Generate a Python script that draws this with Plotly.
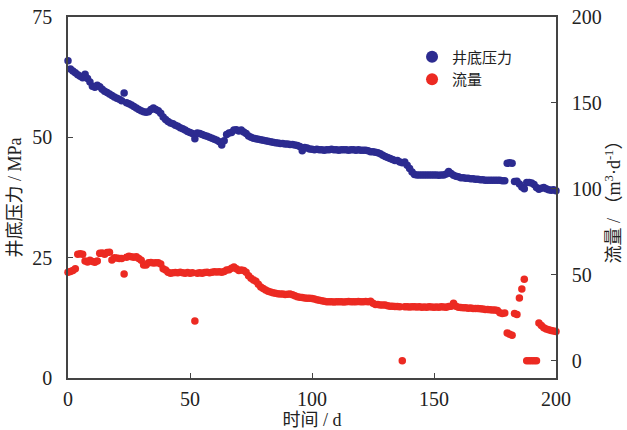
import plotly.graph_objects as go

# Time axis (days) and the two measured series
days = list(range(0, 201))

bottomhole_pressure = [
    65.9, 64.2, 63.8, 63.4, 63.0, 62.7, 62.4, 63.1, 62.2, 61.5,
    60.6, 60.4, 60.8, 60.5, 60.0, 59.6, 59.3, 59.0, 58.7, 58.4,
    58.1, 57.9, 57.6, 59.2, 57.2, 57.0, 56.7, 56.4, 56.1, 55.8,
    55.5, 55.3, 55.2, 55.3, 55.8, 56.1, 55.8, 55.5, 55.0, 54.2,
    53.7, 53.3, 53.0, 52.8, 52.5, 52.3, 52.0, 51.8, 51.5, 51.2,
    51.0, 50.8, 49.7, 50.9, 50.8, 50.6, 50.4, 50.2, 50.0, 49.8,
    49.6, 49.4, 49.1, 48.4, 49.3, 50.6, 50.9, 51.0, 51.5, 51.6,
    51.3, 51.5, 51.1, 50.8, 50.3, 50.0, 49.8, 49.7, 49.6, 49.5,
    49.4, 49.3, 49.2, 49.1, 49.0, 48.9, 48.8, 48.7, 48.7, 48.6,
    48.6, 48.5, 48.5, 48.4, 48.3, 48.1, 47.2, 47.9, 47.8, 47.6,
    47.5, 47.4, 47.5, 47.4, 47.4, 47.3, 47.4, 47.4, 47.5, 47.4,
    47.4, 47.3, 47.4, 47.4, 47.4, 47.3, 47.4, 47.4, 47.3, 47.4,
    47.3, 47.3, 47.3, 47.2, 47.0, 47.0, 46.9, 46.8, 46.6, 46.3,
    46.0, 45.8, 45.6, 45.4, 45.2, 45.2, 44.9, 44.7, 44.9, 44.2,
    43.5, 42.8, 42.3, 42.2, 42.2, 42.2, 42.2, 42.2, 42.2, 42.2,
    42.2, 42.2, 42.1, 42.2, 42.2, 42.4, 42.9, 42.5, 42.1, 41.9,
    41.8, 41.6, 41.6, 41.5, 41.5, 41.4, 41.4, 41.3, 41.3, 41.2,
    41.2, 41.1, 41.1, 41.1, 41.1, 41.1, 41.1, 41.1, 41.0, 41.0,
    44.6, 44.7, 44.6, 40.8, 40.9, 40.3, 39.7, 39.3, 40.6, 40.6,
    40.5, 40.2, 39.6, 39.2, 39.4, 39.6, 39.3, 39.1, 39.0, 39.1,
    38.9,
]

flow_rate = [
    51.5, 52.0, 52.5, 53.5, 62.0, 62.3, 62.0, 58.0, 57.5, 58.5,
    57.8, 57.4, 58.0, 62.5, 62.7, 62.0, 63.0, 63.2, 58.6, 60.0,
    59.8, 59.5, 59.5, 50.5, 60.2, 60.8, 60.5, 60.3, 60.6, 59.5,
    58.5, 55.8, 55.7, 57.0, 57.2, 56.9, 57.0, 57.1, 56.3, 53.5,
    52.8, 51.5, 51.0, 51.2, 51.4, 51.2, 51.5, 51.2, 51.0, 51.3,
    51.0, 51.2, 23.2, 51.0, 51.2, 51.0, 51.3, 51.5, 51.2, 51.5,
    51.8, 51.6, 51.8, 51.5, 52.0, 52.8, 53.0, 53.8, 54.6, 53.5,
    52.5, 52.8, 52.5, 51.5, 49.5, 48.0, 47.0, 46.3, 44.5, 43.0,
    42.0, 41.2, 40.5, 40.0, 39.6, 39.3, 39.0, 38.8, 38.8, 38.6,
    38.7, 38.9, 38.5, 37.8, 37.2, 37.0, 36.8, 36.5, 36.4, 36.4,
    36.3, 36.0, 35.5, 35.2, 35.0, 34.6, 34.4, 34.3, 34.4, 34.2,
    34.3, 34.4, 34.3, 34.2, 34.3, 34.5, 34.3, 34.4, 34.3, 34.5,
    34.4, 34.3, 34.5, 34.4, 34.6, 33.5, 32.8, 32.7, 32.5, 32.5,
    32.4, 32.0, 31.8, 31.7, 31.6, 31.6, 31.5, 0.0, 31.4, 31.5,
    31.3, 31.4, 31.5, 31.3, 31.4, 31.2, 31.3, 31.2, 31.4, 31.3,
    31.2, 31.3, 31.2, 31.4, 31.3, 31.2, 31.6, 31.8, 33.5, 31.8,
    31.2, 31.0, 30.8, 30.9, 30.6, 30.7, 30.5, 30.4, 30.5, 30.3,
    30.2, 29.8, 29.9, 29.7, 29.6, 29.5, 29.2, 28.0, 27.5, 27.8,
    16.2, 15.5, 14.8, 27.5, 27.0, 36.5, 41.8, 47.5, 0.0, 0.0,
    0.0, 0.0, 0.0, 22.0, 20.5, 19.3, 18.5, 18.0, 17.6, 17.3,
    17.0,
]

x_ticks = [0, 50, 100, 150, 200]
pressure_ticks = [0, 25, 50, 75]
flow_ticks = [0, 50, 100, 150, 200]

BLUE = "#2c2b90"
RED = "#ec2a22"
AXIS = "#444444"
FONT = "Liberation Serif, Noto Sans CJK SC, serif"

fig = go.Figure()
fig.add_trace(go.Scatter(
    x=days, y=bottomhole_pressure, mode="markers", name="井底压力",
    marker=dict(color=BLUE, size=7.5), cliponaxis=False,
))
fig.add_trace(go.Scatter(
    x=days, y=flow_rate, mode="markers", name="流量", yaxis="y2",
    marker=dict(color=RED, size=7.5), cliponaxis=False,
))

axis_common = dict(
    showgrid=False, zeroline=False, showline=True, linecolor=AXIS,
    linewidth=1.5, ticks="inside", ticklen=5, tickcolor=AXIS, tickwidth=1.2,
    tickfont=dict(family=FONT, size=20, color="#222222"), automargin=False,
)

fig.update_layout(
    width=627, height=430,
    margin=dict(l=68, r=71, t=17, b=52),
    paper_bgcolor="white", plot_bgcolor="white",
    font=dict(family=FONT, color="#222222"),
    xaxis=dict(
        range=[0, 200], tickvals=x_ticks, mirror=True, ticklabelstandoff=2,
        title=dict(text="时间 / d", font=dict(family=FONT, size=18), standoff=4),
        **axis_common,
    ),
    yaxis=dict(
        range=[0, 75], tickvals=pressure_ticks, ticklabelstandoff=10,
        title=dict(text="井底压力 / MPa", font=dict(family=FONT, size=18), standoff=6),
        **axis_common,
    ),
    yaxis2=dict(
        range=[-10, 200], tickvals=flow_ticks, overlaying="y", side="right",
        ticklabelstandoff=10,
        title=dict(text="流量 / （m<sup>3</sup>·d<sup>-1</sup>）",
                   font=dict(family=FONT, size=18), standoff=6),
        **axis_common,
    ),
    legend=dict(
        x=0.705, y=0.935, xanchor="left", yanchor="top",
        bgcolor="rgba(0,0,0,0)", font=dict(family=FONT, size=15),
        itemsizing="constant", tracegroupgap=0, itemwidth=30,
    ),
    showlegend=True,
)

fig.write_html("out.html")
